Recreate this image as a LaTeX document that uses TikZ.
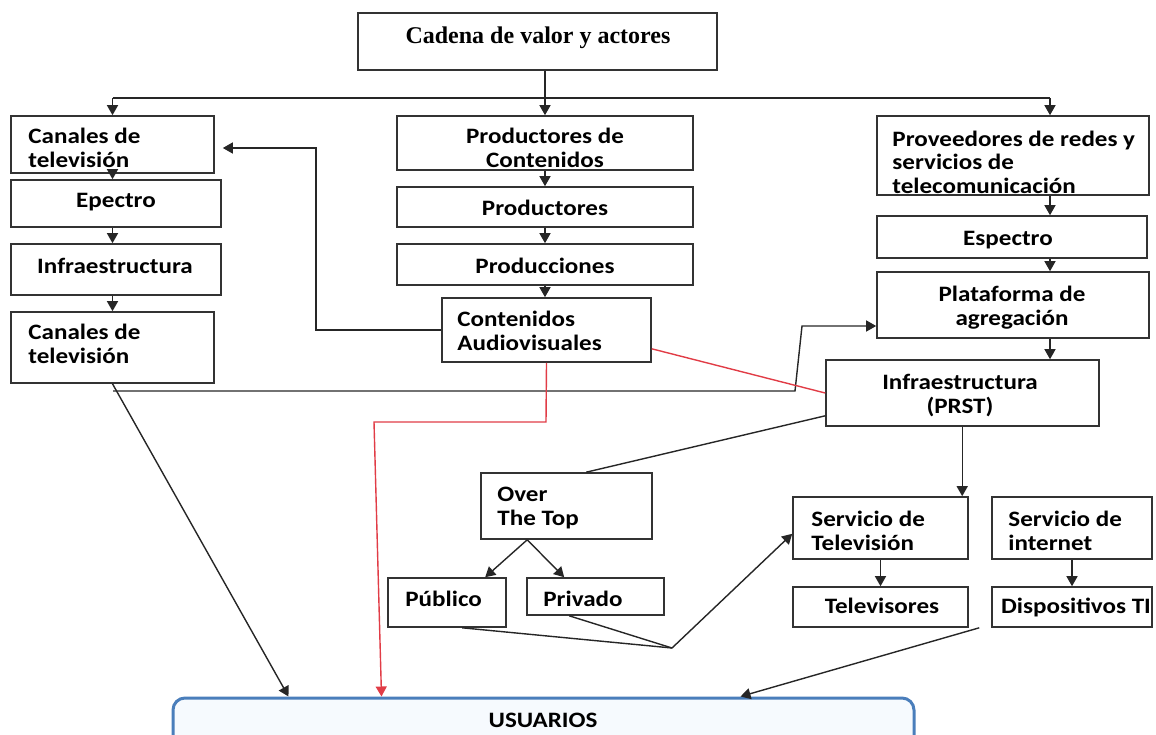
\documentclass[tikz,border=0pt]{standalone}
\usepackage{fontspec}
\setmainfont{Carlito}[FakeStretch=1.14]
\newfontfamily\serifb{Liberation Serif}
\usetikzlibrary{arrows.meta,fit,calc}
\definecolor{redl}{RGB}{225,60,70}
\definecolor{blueb}{RGB}{74,126,187}
\definecolor{bluef}{RGB}{246,250,254}
\begin{document}
\begin{tikzpicture}[x=0.5pt,y=-0.5pt,
  box/.style={draw=black!80, line width=0.8pt, inner sep=0pt},
  txt/.style={font=\fontsize{11}{11.7}\selectfont\bfseries, inner sep=0pt, align=left, anchor=base west},
  ctxt/.style={font=\fontsize{11}{11.7}\selectfont\bfseries, inner sep=0pt, align=center, anchor=base},
  con/.style={draw=black!85, line width=0.7pt},
  arr/.style={con, -{Triangle[length=5pt,width=5.5pt]}},
  rcon/.style={draw=redl, line width=0.7pt},
  rarr/.style={rcon, -{Triangle[length=5pt,width=5.5pt]}}
]
\useasboundingbox (0,0) rectangle (1156,734);
\clip (0,0) rectangle (1156,734);

% USUARIOS
\node[draw=blueb, line width=1.5pt, fill=bluef, rounded corners=6pt, inner sep=0pt, fit={(173,698)(914,760)}] (usu) {};
\node[ctxt] (usut) at (543,727) {USUARIOS};

% top
\node[box, fit={(358,13)(717,70)}] (top) {};
\node[anchor=base, font=\serifb\bfseries\fontsize{12}{14}\selectfont, inner sep=0pt] (topt) at (538,43) {Cadena de valor y actores};

% left column (multi-line nodes are anchored on their last baseline)
\node[box, fit={(11,116)(214,173)}] (can1) {};
\node[txt] (can1t) at (28,167) {Canales de\\televisión};
\node[box, fit={(11,180)(221,227)}] (epe) {};
\node[ctxt] (epet) at (116,207) {Epectro};
\node[box, fit={(11,244)(221,295)}] (inf) {};
\node[ctxt] (inft) at (115,273) {Infraestructura};
\node[box, fit={(11,312)(214,383)}] (can2) {};
\node[txt] (can2t) at (28,363) {Canales de\\televisión};

% middle column
\node[box, fit={(397,116)(693,170)}] (prodc) {};
\node[ctxt] (prodct) at (545,167) {Productores de\\Contenidos};
\node[box, fit={(397,187)(693,227)}] (prod) {};
\node[ctxt] (prodt) at (545,215) {Productores};
\node[box, fit={(397,244)(693,285)}] (prodn) {};
\node[ctxt] (prodnt) at (545,273) {Producciones};
\node[box, fit={(442,298)(651,362)}] (cont) {};
\node[txt] (contt) at (457,350) {Contenidos\\Audiovisuales};

% right column
\node[box, fit={(877,116)(1149,195)}] (prov) {};
\node[txt] (provt) at (892,193) {Proveedores de redes y\\servicios de\\telecomunicación};
\node[box, fit={(877,216)(1147,258)}] (esp) {};
\node[ctxt] (espt) at (1008,245) {Espectro};
\node[box, fit={(877,272)(1149,338)}] (plat) {};
\node[ctxt] (platt) at (1012,325) {Plataforma de\\agregación};
\node[box, fit={(826,360)(1099,426)}] (prst) {};
\node[ctxt] (prstt) at (960,413) {Infraestructura\\(PRST)};

% lower part
\node[box, fit={(481,473)(652,539)}] (ott) {};
\node[txt] (ottt) at (497,525) {Over\\The Top};
\node[box, fit={(388,578)(506,627)}] (pub) {};
\node[txt] (pubt) at (405,606) {Público};
\node[box, fit={(527,578)(664,615)}] (priv) {};
\node[txt] (privt) at (543,606) {Privado};
\node[box, fit={(793,497)(968,559)}] (stv) {};
\node[txt] (stvt) at (811,550) {Servicio de\\Televisión};
\node[box, fit={(992,497)(1152,559)}] (sint) {};
\node[txt] (sintt) at (1008,550) {Servicio de\\internet};
\node[box, fit={(793,587)(968,627)}] (tvs) {};
\node[ctxt] (tvst) at (882,613) {Televisores};
\node[box, fit={(992,587)(1152,627)}] (disp) {};
\node[ctxt] (dispt) at (1076,613) {Dispositivos TI};

% top distribution
\coordinate (pv) at (1050,98);
\draw[arr] (top.south -| prodc.north) -- (prodc.north);
\draw[con] (can1.north |- pv) -- (pv);
\draw[arr] (can1.north |- pv) -- (can1.north);
\draw[arr] (pv) -- (pv |- prov.north);

% left chain
\draw[arr] (can1.south) -- (can1.south |- epe.north);
\draw[arr] (can1.south |- epe.south) -- (can1.south |- inf.north);
\draw[arr] (can1.south |- inf.south) -- (can1.south |- can2.north);

% middle chain
\draw[arr] (prodc.south) -- (prod.north);
\draw[arr] (prod.south) -- (prodn.north);
\draw[arr] (prodn.south) -- (prodn.south |- cont.north);

% right chain
\draw[arr] (prov.south -| pv) -- (esp.north -| pv);
\draw[arr] (esp.south -| pv) -- (plat.north -| pv);
\draw[arr] (plat.south -| pv) -- (prst.north -| pv);

% contenidos -> canales
\coordinate (k1) at (316,148);
\draw[arr, shorten >=4pt] (cont.west) -| (k1) -- (k1 -| can1.east);

% canales2 -> usuarios
\draw[arr] (can2.south) -- ($(usu.north west)+(117,0)$);

% line to plataforma
\coordinate (b1) at (113,391);
\coordinate (b2) at (795,391);
\coordinate (b3) at (802,326);
\draw[arr] (b1) -- (b2) -- (b3) -- (b3 -| plat.west);

% red lines
\coordinate (r1) at (546,422);
\coordinate (r2) at (374,422);
\draw[rarr] (cont.south) -- (r1) -- (r2) -- ($(usu.north west)+(210,0)$);
\draw[rcon] ($(cont.south east)+(0,-14)$) -- (prst.west);

% prst -> ott, prst -> stv
\draw[con] ($(prst.south west)+(0,-11)$) -- ($(ott.north west)+(106,0)$);
\coordinate (p1) at ($(prst.south west)+(137,0)$);
\draw[arr] (p1) -- (p1 |- stv.north);

% ott -> publico / privado
\draw[arr] ($(ott.south west)+(47,0)$) -- ($(pub.north west)+(98,0)$);
\draw[arr] ($(ott.south west)+(47,0)$) -- ($(priv.north west)+(38,0)$);

% publico/privado -> servicio tv
\coordinate (cv) at (672,648);
\draw[con] ($(pub.south west)+(75,0)$) -- (cv);
\draw[con] ($(priv.south west)+(43,0)$) -- (cv);
\draw[arr] (cv) -- ($(stv.south west)+(0,-26)$);

% services -> devices
\draw[arr] (stv.south) -- (tvs.north);
\draw[arr] (sint.south) -- (disp.north);

% dispositivos -> usuarios
\draw[arr] ($(disp.south west)+(-12,0)$) -- ($(usu.north west)+(569,0)$);
\end{tikzpicture}
\end{document}
